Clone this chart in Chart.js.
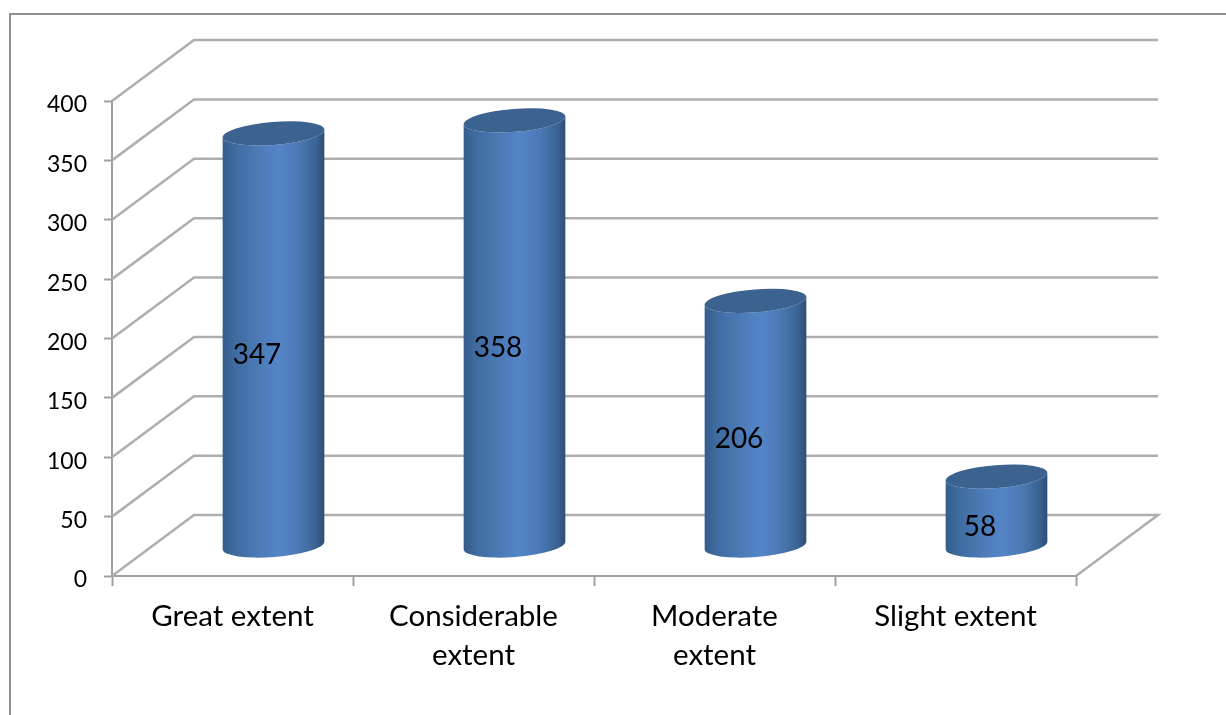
<!DOCTYPE html>
<html>
<head>
<meta charset="utf-8">
<title>Extent chart</title>
<style>
  html, body { margin: 0; padding: 0; background: #fff; overflow: hidden; }
  canvas { display: block; }
</style>
<script src="https://cdn.jsdelivr.net/npm/chart.js@4/dist/chart.umd.js"></script>
</head>
<body>
<canvas id="chart" width="1226" height="715"></canvas>
<script>
const categories = [["Great extent"], ["Considerable", "extent"], ["Moderate", "extent"], ["Slight extent"]];
const values = [347, 358, 206, 58];
const axisMax = 400;
const axisStep = 50;

const FONT = "Lato, sans-serif";
const GRID = "#aeaeae";
const AXIS = "#a0a0a0";
const DEPTH_X = 82;     // how far the back wall sits to the right of the front plane
const DEPTH_Y = 61;     // and how far above it
const CYL_RX = 51;
const CYL_RY = 11.5;
const CYL_TILT = -4.5 * Math.PI / 180;

// Outer frame and the receding floor, side wall and back wall lines
const wallPlugin = {
  id: "walls",
  beforeDatasetsDraw(chart) {
    const { ctx, scales: { x, y } } = chart;
    ctx.save();
    ctx.strokeStyle = "#8f8f8f";
    ctx.lineWidth = 2;
    ctx.beginPath();
    ctx.moveTo(10, 715);
    ctx.lineTo(10, 14);
    ctx.lineTo(1226, 14);
    ctx.stroke();

    ctx.strokeStyle = GRID;
    ctx.lineWidth = 2.5;
    ctx.lineJoin = "miter";
    for (let v = 0; v <= axisMax; v += axisStep) {
      const py = y.getPixelForValue(v);
      ctx.beginPath();
      ctx.moveTo(x.left, py);
      ctx.lineTo(x.left + DEPTH_X, py - DEPTH_Y);
      ctx.lineTo(x.right + DEPTH_X, py - DEPTH_Y);
      if (v === 0) ctx.lineTo(x.right, py);
      ctx.stroke();
    }
    ctx.restore();
  }
};

// Each bar element is rendered as a shaded cylinder standing mid-way into the depth
const cylinderPlugin = {
  id: "cylinders",
  afterDatasetsDraw(chart) {
    const { ctx } = chart;
    const base = chart.scales.y.getPixelForValue(0);
    chart.getDatasetMeta(0).data.forEach((bar, i) => {
      const cx = bar.x + DEPTH_X / 2;
      const topY = bar.y - DEPTH_Y / 2;
      const botY = base - DEPTH_Y / 2;
      const dx = CYL_RX * Math.cos(CYL_TILT);
      const dy = CYL_RX * Math.sin(CYL_TILT);

      const grad = ctx.createLinearGradient(cx - dx, 0, cx + dx, 0);
      grad.addColorStop(0, "#345d8c");
      grad.addColorStop(0.12, "#3f6b9f");
      grad.addColorStop(0.35, "#4b7ab6");
      grad.addColorStop(0.55, "#5485c8");
      grad.addColorStop(0.75, "#4b79b5");
      grad.addColorStop(0.92, "#3a6393");
      grad.addColorStop(1, "#2e4d74");

      ctx.save();
      ctx.fillStyle = grad;
      ctx.beginPath();
      ctx.moveTo(cx - dx, topY - dy);
      ctx.lineTo(cx - dx, botY - dy);
      ctx.ellipse(cx, botY, CYL_RX, CYL_RY, CYL_TILT, Math.PI, 0, true);
      ctx.lineTo(cx + dx, topY + dy);
      ctx.ellipse(cx, topY, CYL_RX, CYL_RY, CYL_TILT, 0, Math.PI, false);
      ctx.closePath();
      ctx.fill();

      ctx.fillStyle = "#3c6290";
      ctx.beginPath();
      ctx.ellipse(cx, topY, CYL_RX, CYL_RY, CYL_TILT, 0, Math.PI * 2);
      ctx.fill();

      // Value label, anchored at half the column height
      ctx.fillStyle = "#000";
      ctx.font = "28px " + FONT;
      ctx.textAlign = "center";
      ctx.textBaseline = "middle";
      ctx.fillText(String(values[i]), bar.x + 24.5, (bar.y + base) / 2 - 15);
      ctx.restore();
    });
  }
};

new Chart(document.getElementById("chart"), {
  type: "bar",
  data: {
    labels: categories,
    datasets: [{ data: values, backgroundColor: "rgba(0,0,0,0)", borderWidth: 0 }]
  },
  plugins: [wallPlugin, cylinderPlugin],
  options: {
    responsive: false,
    animation: false,
    layout: { padding: { top: 101, right: 150, left: 0, bottom: 0 } },
    plugins: { legend: { display: false }, tooltip: { enabled: false } },
    scales: {
      x: {
        afterFit(scale) { scale.height = 139; },
        border: { color: AXIS, width: 2 },
        grid: { drawOnChartArea: false, drawTicks: true, tickLength: 10, tickColor: AXIS, tickWidth: 2, offset: true },
        ticks: {
          color: "#000",
          font: { family: FONT, size: 29.5, lineHeight: 1.32 },
          padding: 11,
          maxRotation: 0,
          autoSkip: false
        }
      },
      y: {
        min: 0,
        max: axisMax,
        afterFit(scale) { scale.width = 112; },
        border: { color: AXIS, width: 2 },
        grid: { drawOnChartArea: false, drawTicks: true, tickLength: 8, tickColor: AXIS, tickWidth: 2 },
        ticks: {
          stepSize: axisStep,
          color: "#000",
          font: { family: FONT, size: 23 },
          padding: 17,
          labelOffset: 4
        }
      }
    }
  }
});
</script>
</body>
</html>
